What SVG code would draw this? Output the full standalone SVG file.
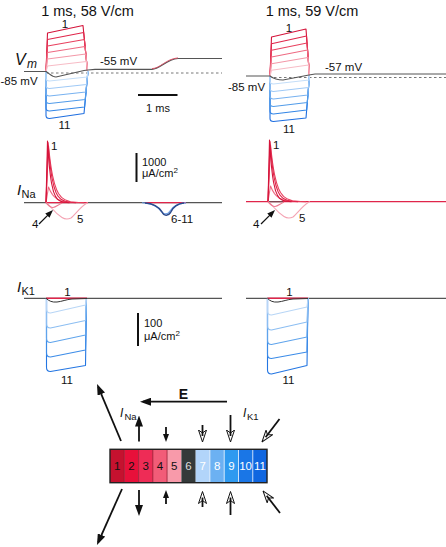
<svg xmlns="http://www.w3.org/2000/svg" width="446" height="547" viewBox="0 0 446 547">
<defs>
<style>
text{font-family:"Liberation Sans",Arial,sans-serif;fill:#111}
.t{font-size:14.5px;text-anchor:middle}
.l{font-size:11.5px}
.s{font-size:11px}
.it{font-style:italic}
.base{fill:none;stroke:#555;stroke-width:1.2}
.tr{fill:none;stroke-width:1.1;stroke-linejoin:round}
.dash{fill:none;stroke:#777;stroke-width:1;stroke-dasharray:2.5 2.5}
.bar{stroke:#111;stroke-width:2}
.arr{fill:none;stroke:#111;stroke-width:1.8}
.num{font-size:11.5px;text-anchor:middle}
.r1{stroke:#d4143a}.r2{stroke:#e0254a}.r3{stroke:#e8405e}.r4{stroke:#ee6a82}.r5{stroke:#f398a8}.r6{stroke:#f7bcc6}
.b1{stroke:#c4def8}.b2{stroke:#a0caf6}.b3{stroke:#78b2f0}.b4{stroke:#529ce9}.b5{stroke:#3386e6}.b6{stroke:#1f6fe0}
</style>
<marker id="fh" markerUnits="userSpaceOnUse" markerWidth="11" markerHeight="8" refX="8" refY="4" orient="auto"><path d="M0,0 L11,4 L0,8 z" fill="#111"/></marker>
<marker id="fs" markerUnits="userSpaceOnUse" markerWidth="8" markerHeight="6" refX="5" refY="3" orient="auto"><path d="M0,0 L8,3 L0,6 z" fill="#111"/></marker>
<marker id="fo" markerUnits="userSpaceOnUse" markerWidth="13" markerHeight="9" refX="6.5" refY="4.5" orient="auto"><path d="M0.5,0.5 L12.5,4.5 L0.5,8.5 L3.5,4.5 z" fill="none" stroke="#111" stroke-width="1"/></marker>
<g id="inaTr">
<path class="tr r4" d="M46 202.7 L48.5 187 L50.5 191.4 L52.5 194.6 L54.5 196.9 L57.5 199.2 L61.5 200.9 L66.5 201.9 L73.5 202.5"/>
<path class="tr r3" d="M46 202.7 L48.5 146 L49.5 155.4 L50.5 163.3 L51.5 169.8 L52.5 175.3 L54.5 183.6 L56.5 189.4 L58.5 193.5 L61.5 197.4 L65.5 200.1 L70.5 201.7 L78.5 202.5 L84 202.7"/>
<path class="tr r2" d="M46 202.7 L48 142.5 L49 154.5 L50 164.1 L51 171.8 L52 178 L54 186.8 L56 192.5 L58 196.2 L61 199.3 L65 201.3 L70 202.2 L76 202.7"/>
<path class="tr r1" d="M46 202.7 L47.5 141 L48.5 156.4 L49.5 167.8 L50.5 176.5 L51.5 183 L53.5 191.6 L55.5 196.4 L57.5 199.2 L60.5 201.2 L64.5 202.2 L69.5 202.7"/>
<path class="tr" stroke="#f4a3b3" d="M46 202.7 C48 204 50 206 52 208.5 C55 212 58 215 62 217.5 C65 219.5 68 219.5 71 218 C75 215 80 207 87 203 L88 202.7"/>
<path class="tr" stroke="#ee7890" d="M46 202.7 C48 205 50 207.5 53 207.5 C56 207.5 58 204.5 62 203.2"/>
</g>
</defs>
<rect width="446" height="547" fill="#fff"/>

<g id="titles">
<text class="t" x="87.5" y="16">1 ms, 58 V/cm</text>
<text class="t" x="312" y="16">1 ms, 59 V/cm</text>
</g>

<g id="vm-58">
<line class="dash" x1="46" y1="73" x2="222" y2="73"/>
<path class="tr r1" d="M46 71.5 L47.5 33 L83 25.5 L87.5 71"/>
<path class="tr r2" d="M46 71.5 L47.5 39.5 L83.7 32.5 L87.5 71"/>
<path class="tr r3" d="M46 71.5 L47.5 46 L84.4 39.5 L87.5 71"/>
<path class="tr r4" d="M46 71.5 L47.5 52.5 L85 46.5 L87.5 71"/>
<path class="tr r5" d="M46 71.5 L47.5 59 L85.8 54 L87.5 71"/>
<path class="tr r6" d="M46 71.5 L47.5 66 L86.5 61.5 L87.5 71"/>
<path class="tr b6" d="M46 71.5 V115.5 Q46 118.5 49.5 118.5 L84 113.5 L88 71"/>
<path class="tr b5" d="M46 71.5 V108 Q46 111 49.5 111 L84.6 107 L88 71"/>
<path class="tr b4" d="M46 71.5 V100.5 Q46 103.5 49.5 103.5 L85.2 99.5 L88 71"/>
<path class="tr b3" d="M46 71.5 V93 Q46 96 49.5 96 L85.8 92 L88 71"/>
<path class="tr b2" d="M46 71.5 V85.5 Q46 88.5 49.5 88.5 L86.4 84.5 L88 71"/>
<path class="tr b1" d="M46 71.5 V78 Q46 81 49.5 81 L87 77 L88 71"/>
<path class="base" d="M24 71.5 H46 C50 74 52 77 56 77 L84 70.5 L88 70 L95 69.3 H152 C160 69.3 166 59.5 178 58.5 H222"/>
<path fill="none" stroke="#d84a60" stroke-width="0.9" d="M152 68.6 C160 68.6 166 58.8 178 57.9"/>
<text class="l" x="65" y="28" text-anchor="middle">1</text>
<text class="l" x="64.5" y="128.5" text-anchor="middle">11</text>
<text class="it" x="15" y="65" font-size="16">V</text>
<text class="it" x="27" y="68" font-size="12">m</text>
<text class="l" x="0.5" y="85">-85 mV</text>
<text class="l" x="100" y="65">-55 mV</text>
</g>

<g id="vm-59">
<line class="dash" x1="269" y1="77.5" x2="446" y2="77.5"/>
<path class="tr r1" d="M270 76 L271.5 37 L306 29 L309.5 75.5"/>
<path class="tr r2" d="M270 76 L271.5 43.7 L306.5 36 L309.5 75.5"/>
<path class="tr r3" d="M270 76 L271.5 50.3 L307 43 L309.5 75.5"/>
<path class="tr r4" d="M270 76 L271.5 57 L307.5 50 L309.5 75.5"/>
<path class="tr r5" d="M270 76 L271.5 63.7 L308 57.5 L309.5 75.5"/>
<path class="tr r6" d="M270 76 L271.5 70.3 L308.5 65 L309.5 75.5"/>
<path class="tr b6" d="M270 76 V118.5 Q270 121.5 273.5 121.5 L306 118 L309.5 75.5"/>
<path class="tr b5" d="M270 76 V111 Q270 114 273.5 114 L306.7 110 L309.5 75.5"/>
<path class="tr b4" d="M270 76 V103.5 Q270 106.5 273.5 106.5 L307.3 102.5 L309.5 75.5"/>
<path class="tr b3" d="M270 76 V96 Q270 99 273.5 99 L307.9 95 L309.5 75.5"/>
<path class="tr b2" d="M270 76 V88.5 Q270 91.5 273.5 91.5 L308.5 87.5 L309.5 75.5"/>
<path class="tr b1" d="M270 76 V81 Q270 84 273.5 84 L309.1 80 L309.5 75.5"/>
<path class="base" d="M246 76 H270 C274 79 278 80 283 80 L309 75 L315 74 H446"/>
<text class="l" x="289" y="31.5" text-anchor="middle">1</text>
<text class="l" x="289" y="133" text-anchor="middle">11</text>
<text class="l" x="228" y="90.5">-85 mV</text>
<text class="l" x="325" y="71">-57 mV</text>
</g>

<g id="scale-bars">
<line class="bar" x1="138" y1="95" x2="177.5" y2="95"/>
<text class="s" x="158" y="112" text-anchor="middle">1 ms</text>
<line class="bar" x1="136.5" y1="153" x2="136.5" y2="182"/>
<text class="s" x="142" y="166">1000</text>
<text class="s" x="142" y="177">μA/cm<tspan font-size="8" dy="-4">2</tspan></text>
<line class="bar" x1="138" y1="313" x2="138" y2="346"/>
<text class="s" x="144" y="327">100</text>
<text class="s" x="144" y="340">μA/cm<tspan font-size="8" dy="-4">2</tspan></text>
</g>

<g id="ina-58">
<path class="base" d="M24 202.7 H222"/>
<path fill="none" stroke="#e0254a" stroke-width="1.2" d="M46 202.7 H88 M145 202.7 H186"/>
<use href="#inaTr"/>
<path fill="none" stroke="#6a9ee8" stroke-width="1.1" d="M142 202.7 C152 203 157 206 161 211 C163.5 214.5 167.5 215 170 211 C173 206 178 203.5 186 202.9"/>
<path fill="none" stroke="#2b4a8c" stroke-width="1.5" d="M145 202.9 C154 203.3 159 207 162 212 C164 216 168 216.5 170.5 212.5 C173 207 178 203.5 184 203"/>
<text class="it" x="17" y="195" font-size="15">I</text>
<text x="21.5" y="197.5" font-size="11">Na</text>
<text class="l" x="51" y="149.5">1</text>
<text class="l" x="32" y="228">4</text>
<text class="l" x="77" y="222.5">5</text>
<text class="l" x="171" y="222.5">6-11</text>
</g>

<g id="ina-59">
<path fill="none" stroke="#e0254a" stroke-width="1.2" d="M246 201.7 H446"/>
<path fill="none" stroke="#555" stroke-width="1" d="M268 201.8 H283"/>
<use href="#inaTr" transform="translate(222,-1)"/>
<text class="l" x="273" y="148.5">1</text>
<text class="l" x="253" y="228">4</text>
<text class="l" x="299" y="221.5">5</text>
</g>

<g id="ik1-58">
<path class="base" d="M24 298.3 H222"/>
<path class="tr" stroke="#2476e2" d="M46.5 298.3 V367.5 Q46.5 371.5 50.5 371.5 L85.5 365.5 L86.5 298.3"/>
<path class="tr" stroke="#3c8ce8" d="M46.5 298.3 V353 Q46.5 357 50.5 357 L85.5 350 L86.5 298.3"/>
<path class="tr" stroke="#5fa4ec" d="M46.5 298.3 V338.5 Q46.5 342.5 50.5 342.5 L85.5 335 L86.5 298.3"/>
<path class="tr" stroke="#8cbef2" d="M46.5 298.3 V324 Q46.5 328 50.5 328 L85.5 320.5 L86.5 298.3"/>
<path class="tr" stroke="#b8d6f6" d="M46.5 298.3 V309 Q46.5 313 50.5 313 L85.5 305 L86.5 298.3"/>
<path fill="none" stroke="#e0254a" stroke-width="1.4" d="M46 298.3 H87"/>
<path fill="none" stroke="#333" stroke-width="1" d="M46 298.3 C49 301 52 302.5 57 302 C62 301.5 66 299.5 72 299 L87 298.5"/>
<text class="it" x="17" y="292" font-size="15">I</text>
<text x="21.5" y="294.5" font-size="11">K1</text>
<text class="l" x="67.5" y="296" text-anchor="middle">1</text>
<text class="l" x="67" y="383.5" text-anchor="middle">11</text>
</g>

<g id="ik1-59">
<path class="base" d="M246 298.3 H446"/>
<path class="tr" stroke="#2476e2" d="M267.5 298.3 V370 Q267.5 374 271.5 374 L307 365.5 L308 298.3"/>
<path class="tr" stroke="#3c8ce8" d="M267.5 298.3 V354.5 Q267.5 358.5 271.5 358.5 L307 352 L308 298.3"/>
<path class="tr" stroke="#5fa4ec" d="M267.5 298.3 V340.5 Q267.5 344.5 271.5 344.5 L307 337 L308 298.3"/>
<path class="tr" stroke="#8cbef2" d="M267.5 298.3 V326 Q267.5 330 271.5 330 L307 322 L308 298.3"/>
<path class="tr" stroke="#b8d6f6" d="M267.5 298.3 V311 Q267.5 315 271.5 315 L307 307 L308 298.3"/>
<path fill="none" stroke="#e0254a" stroke-width="1.4" d="M267.5 298.3 H308"/>
<path fill="none" stroke="#333" stroke-width="1" d="M267.5 298.3 C270 301 273 302.5 278 302 C283 301.5 287 299.5 293 299 L308 298.5"/>
<text class="l" x="289.5" y="296" text-anchor="middle">1</text>
<text class="l" x="288.5" y="383.5" text-anchor="middle">11</text>
</g>

<g id="schematic">
<g id="cell-1"><rect x="110" y="449.3" width="14.3" height="33.4" fill="#c5122f"/><text class="num" x="117.1" y="470">1</text></g>
<g id="cell-2"><rect x="124.3" y="449.3" width="14.3" height="33.4" fill="#e8103a"/><text class="num" x="131.4" y="470">2</text></g>
<g id="cell-3"><rect x="138.6" y="449.3" width="14.3" height="33.4" fill="#ee2c56"/><text class="num" x="145.7" y="470">3</text></g>
<g id="cell-4"><rect x="152.8" y="449.3" width="14.3" height="33.4" fill="#f25c78"/><text class="num" x="160" y="470">4</text></g>
<g id="cell-5"><rect x="167.1" y="449.3" width="14.3" height="33.4" fill="#f89aaa"/><text class="num" x="174.3" y="470">5</text></g>
<g id="cell-6"><rect x="181.4" y="449.3" width="14.3" height="33.4" fill="#343a3a"/><text class="num" x="188.5" y="470" style="fill:#ddd">6</text></g>
<g id="cell-7"><rect x="195.7" y="449.3" width="14.3" height="33.4" fill="#b2d5fa"/><text class="num" x="202.8" y="470" style="fill:#fff">7</text></g>
<g id="cell-8"><rect x="209.9" y="449.3" width="14.3" height="33.4" fill="#6cb1f2"/><text class="num" x="217.1" y="470" style="fill:#fff">8</text></g>
<g id="cell-9"><rect x="224.2" y="449.3" width="14.3" height="33.4" fill="#2f9af0"/><text class="num" x="231.4" y="470" style="fill:#fff">9</text></g>
<g id="cell-10"><rect x="238.5" y="449.3" width="14.3" height="33.4" fill="#1a76e6"/><text class="num" x="245.6" y="470" style="fill:#fff">10</text></g>
<g id="cell-11"><rect x="252.8" y="449.3" width="14.3" height="33.4" fill="#0f66e0"/><text class="num" x="259.9" y="470" style="fill:#fff">11</text></g>
<path fill="none" stroke="#8a1025" stroke-width="0.7" d="M124.3 449.3 V482.7 M138.6 449.3 V482.7 M152.8 449.3 V482.7 M167.1 449.3 V482.7"/>
<path fill="none" stroke="#fff" stroke-width="0.7" d="M209.9 449.3 V482.7 M224.2 449.3 V482.7 M238.5 449.3 V482.7 M252.8 449.3 V482.7"/>
<rect x="110" y="449.3" width="157" height="33.4" fill="none" stroke="#222" stroke-width="1.4"/>
<text x="183.5" y="399" font-size="14" font-weight="bold" text-anchor="middle">E</text>
<text class="it" x="120" y="417" font-size="12">I</text>
<text x="124.5" y="419.5" font-size="9.5">Na</text>
<text class="it" x="243" y="417" font-size="12">I</text>
<text x="247" y="419.5" font-size="9.5">K1</text>
</g>

<g id="connectors">
<line stroke="#111" stroke-width="1.2" x1="39" y1="224" x2="50.9" y2="212.1" marker-end="url(#fs)"/>
<line stroke="#111" stroke-width="1.2" x1="261" y1="224" x2="272.9" y2="212.1" marker-end="url(#fs)"/>
<line class="arr" x1="227" y1="401.7" x2="143" y2="401.7" marker-end="url(#fh)"/>
<line class="arr" x1="121" y1="441" x2="98.2" y2="386.8" marker-end="url(#fh)"/>
<line class="arr" x1="122" y1="489" x2="98.2" y2="542.3" marker-end="url(#fh)"/>
<line class="arr" x1="139" y1="441.5" x2="139" y2="418.5" marker-end="url(#fh)"/>
<line class="arr" x1="139" y1="490" x2="139" y2="513" marker-end="url(#fh)"/>
<line class="arr" x1="166" y1="427" x2="166" y2="439" marker-end="url(#fs)"/>
<line class="arr" x1="166" y1="504" x2="166" y2="493" marker-end="url(#fs)"/>
<line class="arr" stroke-width="1.3" x1="202.5" y1="425" x2="202.5" y2="436" marker-end="url(#fo)"/>
<line class="arr" stroke-width="1.3" x1="202.5" y1="507" x2="202.5" y2="497.5" marker-end="url(#fo)"/>
<line class="arr" x1="230.5" y1="415" x2="230.5" y2="436" marker-end="url(#fo)"/>
<line class="arr" x1="230.5" y1="515" x2="230.5" y2="497.5" marker-end="url(#fo)"/>
<line class="arr" x1="279.5" y1="419" x2="265.6" y2="437.2" marker-end="url(#fo)"/>
<line class="arr" x1="280" y1="513" x2="266.7" y2="495.7" marker-end="url(#fo)"/>
</g>
</svg>
